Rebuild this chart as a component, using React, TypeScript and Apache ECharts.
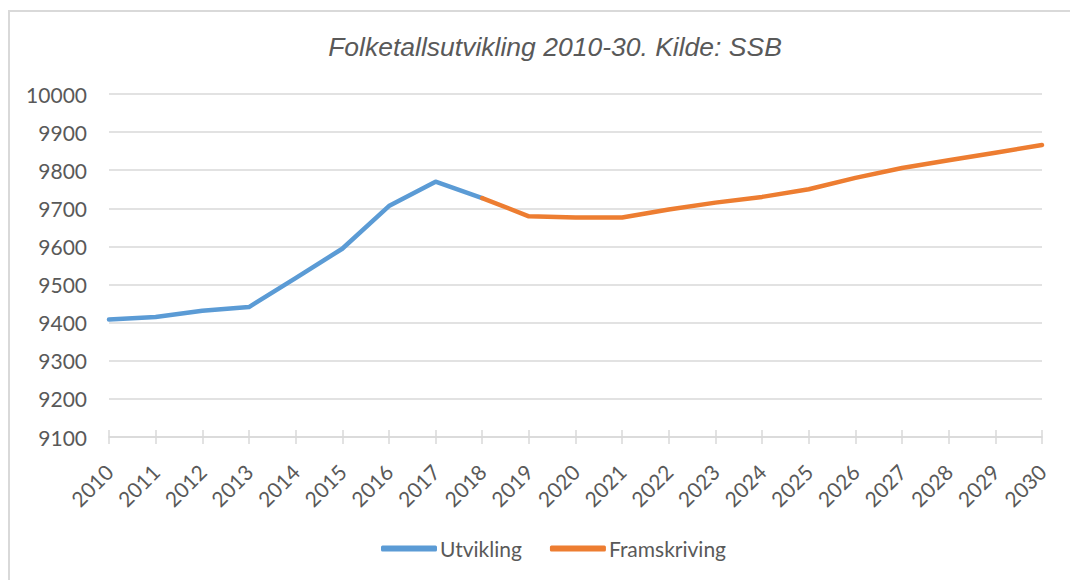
import React, { useEffect, useRef } from "react";
import * as echarts from "echarts";

const years = [
  "2010", "2011", "2012", "2013", "2014", "2015", "2016", "2017", "2018", "2019", "2020",
  "2021", "2022", "2023", "2024", "2025", "2026", "2027", "2028", "2029", "2030",
];
const utvikling = [9408, 9415, 9431, 9441, 9517, 9594, 9706, 9770, 9727, null, null, null, null, null, null, null, null, null, null, null, null];
const framskriving = [null, null, null, null, null, null, null, null, 9727, 9679, 9676, 9676, 9697, 9715, 9730, 9750, 9780, 9806, 9826, 9846, 9866];
const yMin = 9100;
const yMax = 10000;
const yStep = 100;
const titleText = "Folketallsutvikling 2010-30. Kilde: SSB";
const seriesNames = ["Utvikling", "Framskriving"];

const gray = "#595959";
const labelFont = "Lato, 'Open Sans', sans-serif";

export default function App() {
  const ref = useRef<HTMLDivElement>(null);
  useEffect(() => {
    if (!ref.current) return;
    const chart = echarts.init(ref.current, undefined, { renderer: "svg" });
    chart.setOption({
      animation: false,
      backgroundColor: "#ffffff",
      title: {
        text: titleText,
        left: 542,
        textAlign: "center",
        top: 20,
        textStyle: {
          fontFamily: "'Liberation Sans', Arial, sans-serif",
          fontStyle: "italic",
          fontWeight: "normal",
          fontSize: 26.5,
          color: gray,
        },
      },
      legend: {
        left: 368,
        top: 525,
        itemWidth: 56,
        itemHeight: 6,
        itemGap: 28,
        icon: "roundRect",
        textStyle: { fontFamily: labelFont, fontSize: 21, color: gray, padding: [0, 0, 0, -2] },
        data: seriesNames,
      },
      grid: {
        left: 101,
        right: 36,
        top: 86,
        bottom: 143,
        containLabel: false,
        outerBoundsMode: "none",
      },
      xAxis: [
        {
          type: "category",
          data: years,
          boundaryGap: false,
          axisLine: { show: true, lineStyle: { color: "#d9d9d9", width: 1.5 } },
          axisTick: { show: true, length: 7, alignWithLabel: true, lineStyle: { color: "#d9d9d9", width: 1.5 } },
          axisLabel: {
            rotate: 45,
            margin: 31,
            fontFamily: labelFont,
            fontSize: 21,
            color: gray,
            interval: 0,
          },
          splitLine: { show: false },
        },
        {
          type: "category",
          data: years,
          boundaryGap: false,
          position: "bottom",
          axisLine: { show: false },
          axisTick: { show: true, inside: true, length: 7, lineStyle: { color: "#d9d9d9", width: 1.5 } },
          axisLabel: { show: false },
          splitLine: { show: false },
        },
      ],
      yAxis: {
        type: "value",
        min: yMin,
        max: yMax,
        interval: yStep,
        axisLine: { show: false },
        axisTick: { show: false },
        axisLabel: {
          margin: 22,
          fontFamily: labelFont,
          fontSize: 21,
          color: gray,
          formatter: (v: number) => String(v),
        },
        splitLine: { lineStyle: { color: "#d9d9d9", width: 1.5 } },
      },
      graphic: [
        {
          type: "rect",
          shape: { x: 1, y: 3, width: 1300, height: 900 },
          style: { fill: "none", stroke: "#d9d9d9", lineWidth: 2 },
          silent: true,
        },
      ],
      series: [
        {
          name: seriesNames[0],
          type: "line",
          data: utvikling,
          xAxisIndex: 0,
          showSymbol: false,
          symbol: "none",
          color: "#5b9bd5",
          lineStyle: { width: 4.5, color: "#5b9bd5", join: "round", cap: "round" },
        },
        {
          name: seriesNames[1],
          type: "line",
          data: framskriving,
          xAxisIndex: 0,
          showSymbol: false,
          symbol: "none",
          color: "#ed7d31",
          lineStyle: { width: 4.5, color: "#ed7d31", join: "round", cap: "round" },
        },
      ],
    });
    return () => chart.dispose();
  }, []);
  return <div ref={ref} style={{ width: 1070, height: 572 }} />;
}
